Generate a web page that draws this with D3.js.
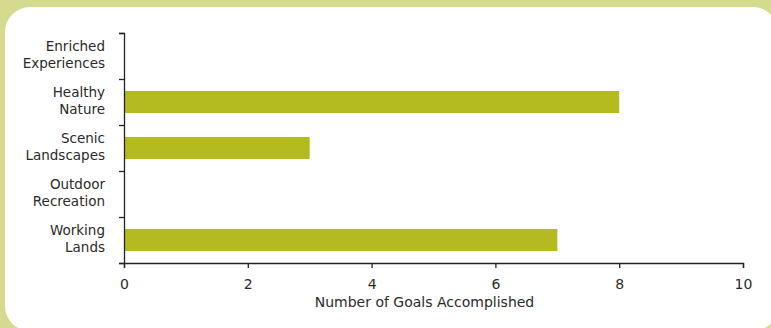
<!DOCTYPE html>
<html>
<head>
<meta charset="utf-8">
<script src="https://cdn.jsdelivr.net/npm/d3@7"></script>
<style>
body { margin: 0; background: #d6da8f; }
svg { display: block; }
</style>
</head>
<body>
<svg id="chart"></svg>
<script>
// values, top to bottom
var categories = ["Enriched Experiences", "Healthy Nature", "Scenic Landscapes", "Outdoor Recreation", "Working Lands"];
var labelLines = [["Enriched", "Experiences"], ["Healthy", "Nature"], ["Scenic", "Landscapes"], ["Outdoor", "Recreation"], ["Working", "Lands"]];
var goals = [0, 8, 3, 0, 7];
var xTicks = [0, 2, 4, 6, 8, 10];

var svg = d3.select("#chart")
    .attr("width", 771)
    .attr("height", 328)

svg.append("rect")
   .attr("width", 771).attr("height", 328)
   .attr("fill", "#d6da8f")

// white rounded panel
svg.append("rect")
   .attr("x", 5).attr("y", 7)
   .attr("width", 773).attr("height", 324)
   .attr("rx", 25).attr("ry", 25)
   .attr("fill", "#ffffff")

var marginLeft = 124, marginTop = 33, width = 619, height = 230

var xScale = d3.scaleLinear().domain([0, 10]).range([0, width]),
    yScale = d3.scaleBand().domain(categories).range([0, height]).paddingInner(0.52).paddingOuter(0.26);

var g = svg.append("g")
           .attr("transform", "translate(" + marginLeft + "," + marginTop + ")")
           .attr("font-family", "DejaVu Sans, sans-serif")

g.selectAll(".bar")
 .data(goals)
 .enter().append("rect")
 .attr("class", "bar")
 .attr("x", 0)
 .attr("y", function(d, i) { return yScale(categories[i]); })
 .attr("width", function(d) { return xScale(d); })
 .attr("height", yScale.bandwidth())
 .attr("fill", "#b3bb1f")

// y axis: line with ticks on band boundaries
var yLine = d3.scaleLinear().domain([0, categories.length]).range([0, height]);
var yAxis = g.append("g")
 .call(d3.axisLeft(yLine).tickValues(d3.range(0, categories.length + 1)).tickSize(5).tickFormat(""))
yAxis.select(".domain").attr("stroke", "#222").attr("stroke-width", 1.3)
yAxis.selectAll(".tick line").attr("stroke", "#222").attr("stroke-width", 1.3)

// category labels, two lines each
g.selectAll(".cat")
 .data(labelLines)
 .enter().append("text")
 .attr("class", "cat")
 .attr("text-anchor", "end")
 .attr("font-size", "13.5px")
 .attr("fill", "#2a2a2a")
 .each(function(lines, i) {
     var cy = yScale(categories[i]) + yScale.bandwidth() / 2;
     var t = d3.select(this);
     lines.forEach(function(s, j) {
         t.append("tspan")
          .attr("x", -19)
          .attr("y", cy - 5.5 + j * 17)
          .text(s);
     });
 })

var xAxis = g.append("g")
 .attr("transform", "translate(0," + height + ")")
 .call(d3.axisBottom(xScale).tickValues(xTicks).tickSize(5).tickPadding(11))
xAxis.select(".domain").attr("stroke", "#222").attr("stroke-width", 1.3)
xAxis.selectAll(".tick line").attr("stroke", "#222").attr("stroke-width", 1.3)
xAxis.selectAll(".tick text")
 .attr("font-family", "DejaVu Sans, sans-serif")
 .attr("font-size", "14px")
 .attr("fill", "#2a2a2a")

g.append("text")
 .attr("x", width / 2 - 9)
 .attr("y", height + 44)
 .attr("text-anchor", "middle")
 .attr("font-size", "14px")
 .attr("fill", "#2a2a2a")
 .text("Number of Goals Accomplished")
</script>
</body>
</html>
